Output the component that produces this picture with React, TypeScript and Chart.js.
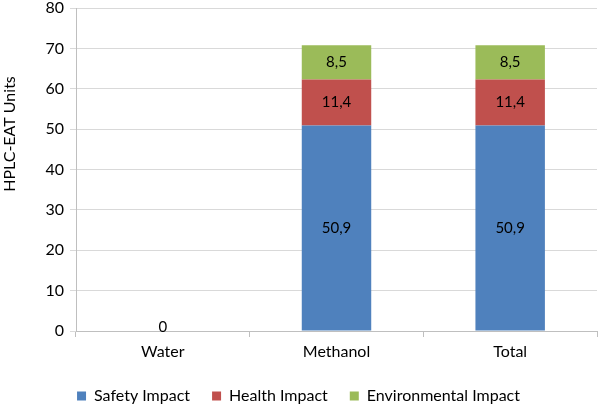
import React, { useEffect, useRef } from "react";
import { Chart, registerables } from "chart.js";

Chart.register(...registerables);

const categories = ["Water", "Methanol", "Total"];
const safetyImpact = [0, 50.9, 50.9];
const healthImpact = [0, 11.4, 11.4];
const environmentalImpact = [0, 8.5, 8.5];
const seriesNames = ["Safety Impact", "Health Impact", "Environmental Impact"];
const seriesColors = ["#4F81BD", "#C0504D", "#9BBB59"];
const yTitle = "HPLC-EAT Units";

const FONT = "Lato, 'Open Sans', sans-serif";

const labelPlugin = {
  id: "segLabels",
  afterDatasetsDraw(chart: any) {
    const ctx = chart.ctx;
    ctx.save();
    ctx.font = `15px ${FONT}`;
    ctx.fillStyle = "#000";
    ctx.textAlign = "center";
    ctx.textBaseline = "middle";
    chart.data.datasets.forEach((ds: any, di: number) => {
      const meta = chart.getDatasetMeta(di);
      meta.data.forEach((bar: any, i: number) => {
        const v = ds.data[i];
        if (v === 0 && di !== 0) return;
        const y = (bar.y + bar.base) / 2;
        const txt = String(v).replace(".", ",");
        ctx.fillText(txt, bar.x, v === 0 ? bar.y - 4 : y);
      });
    });
    // y axis title
    ctx.translate(10, 134);
    ctx.rotate(-Math.PI / 2);
    ctx.font = `16px ${FONT}`;
    ctx.fillStyle = "#000";
    ctx.fillText(yTitle, 0, 0);
    ctx.restore();
  },
};

export default function App() {
  const ref = useRef<HTMLCanvasElement>(null);
  useEffect(() => {
    document.body.style.margin = "0";
    const chart = new Chart(ref.current!, {
      type: "bar",
      data: {
        labels: categories,
        datasets: [safetyImpact, healthImpact, environmentalImpact].map((d, i) => ({
          label: seriesNames[i],
          data: d,
          backgroundColor: seriesColors[i],
          borderWidth: 0,
          barPercentage: 0.4,
          categoryPercentage: 1,
        })),
      },
      options: {
        animation: false,
        responsive: false,
        layout: { padding: { left: 0, right: 3, top: 8, bottom: 2 } },
        plugins: {
          legend: {
            position: "bottom",
            labels: {
              boxWidth: 9,
              boxHeight: 9,
              padding: 22,
              color: "#000",
              font: { family: FONT, size: 16 },
            },
          },
          tooltip: { enabled: false },
        },
        scales: {
          x: {
            stacked: true,
            grid: {
              offset: true,
              drawOnChartArea: false,
              tickLength: 6,
              color: "#bfbfbf",
            },
            border: { color: "#bfbfbf" },
            ticks: { color: "#000", font: { family: FONT, size: 16 }, padding: 5 },
            afterFit: (s: any) => {
              s.height = 35;
            },
          },
          y: {
            stacked: true,
            min: 0,
            max: 80,
            ticks: { stepSize: 10, color: "#000", font: { family: FONT, size: 16 }, padding: 6 },
            grid: { color: "#d9d9d9", tickLength: 6 },
            border: { color: "#bfbfbf" },
            afterFit: (s: any) => {
              s.width = 76;
              s.paddingTop = 0;
              s.paddingBottom = 0;
            },
          },
        },
      },
      plugins: [labelPlugin],
    });
    return () => chart.destroy();
  }, []);
  return (
    <div style={{ width: 600, height: 416 }}>
      <canvas ref={ref} width={600} height={416} />
    </div>
  );
}
